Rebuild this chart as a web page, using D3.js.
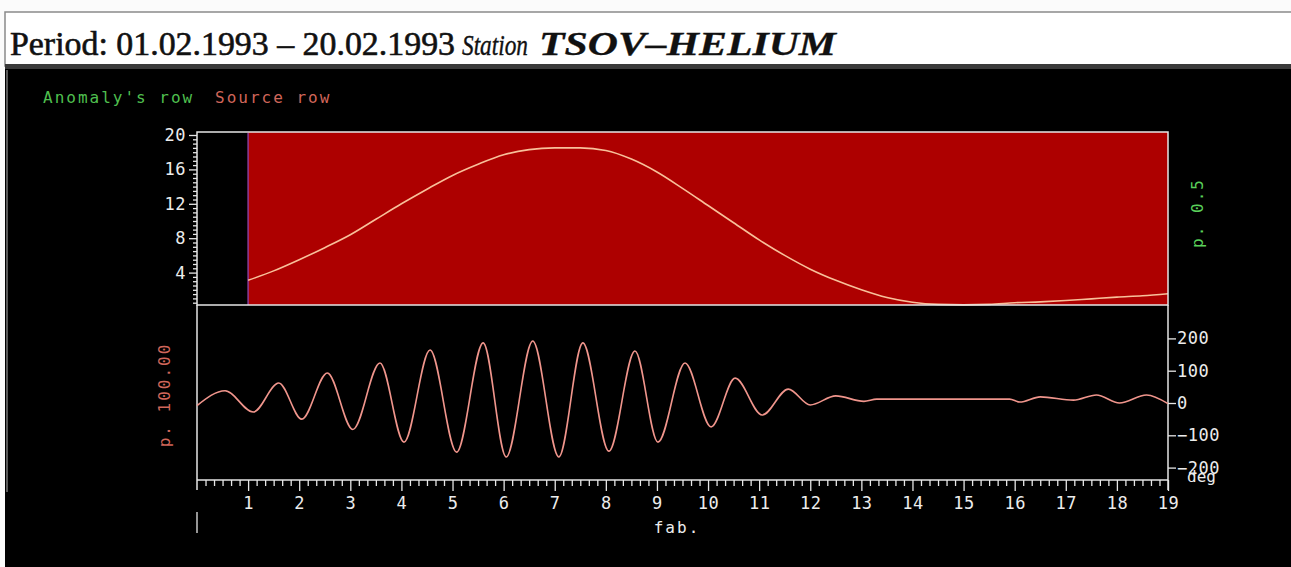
<!DOCTYPE html>
<html>
<head>
<meta charset="utf-8">
<script src="https://cdn.jsdelivr.net/npm/d3@7"></script>
<style>
  body { margin: 0; background: #fff; }
  svg { display: block; }
  .mono { font-family: "DejaVu Sans Mono", monospace; font-size: 16px; letter-spacing: 2px; }
  .tick-lbl { font-family: "DejaVu Sans Mono", monospace; font-size: 17px; letter-spacing: 0.5px; }
</style>
</head>
<body>
<svg id="chart" width="1291" height="567"></svg>
<script>
const width = 1291;
const height = 567;

// upper panel: anomaly row (value per half day)
const upDays = [1, 1.5, 2, 2.5, 3, 3.5, 4, 4.5, 5, 5.5, 6, 6.5, 7, 7.5, 8, 8.5, 9, 9.5, 10,
  10.5, 11, 11.5, 12, 12.5, 13, 13.5, 14, 14.5, 15, 15.5, 16, 16.5, 17, 17.5, 18, 18.5, 19];
const upValues = [3.1, 4.2, 5.5, 6.9, 8.4, 10.2, 12.0, 13.7, 15.3, 16.6, 17.7, 18.3, 18.5, 18.5, 18.2, 17.2, 15.7, 13.8, 11.8,
  9.8, 7.8, 6.0, 4.4, 3.1, 2.0, 1.1, 0.55, 0.3, 0.25, 0.3, 0.5, 0.6, 0.75, 0.95, 1.15, 1.3, 1.55];

// lower panel: source row (extremes of the oscillation)
const lowDays = [0, 0.55, 1.1, 1.6, 2.05, 2.55, 3.05, 3.58, 4.05, 4.56, 5.08, 5.6, 6.05, 6.57, 7.08, 7.55,
  8.06, 8.57, 9.02, 9.55, 10.06, 10.53, 11.06, 11.57, 12.0, 12.5, 13.05, 13.3, 15.9, 16.1, 16.5, 17.15,
  17.6, 18.05, 18.58, 19];
const lowValues = [-8, 38, -28, 62, -50, 93, -82, 124, -121, 164, -152, 186, -167, 192, -167, 186,
  -149, 161, -121, 124, -74, 77, -37, 43, -6, 22, 5, 12, 12, 3, 19, 9, 25, 0, 25, -2];

const upTicks = [4, 8, 12, 16, 20];
const lowTicks = [-200, -100, 0, 100, 200];
const dayTicks = d3.range(1, 20);

const svg = d3.select("#chart");

// page frame
svg.append("rect").attr("x", 0).attr("y", 0).attr("width", width).attr("height", height).attr("fill", "#fbfbfb");
svg.append("rect").attr("x", 5).attr("y", 12).attr("width", width).attr("height", 54)
  .attr("fill", "#fff").attr("stroke", "#8a8a8a").attr("stroke-width", 1.5);
svg.append("rect").attr("x", 5).attr("y", 65).attr("width", width).attr("height", height - 65).attr("fill", "#000");
svg.append("rect").attr("x", 5).attr("y", 64).attr("width", width).attr("height", 5).attr("fill", "#3a3a3a");
svg.append("line").attr("x1", 7).attr("x2", 7).attr("y1", 70).attr("y2", 492)
  .attr("stroke", "#777").attr("stroke-width", 1.5);

// title
const title = [
  { t: "Period: 01.02.1993 – 20.02.1993", x: 10, w: 445, style: "normal", weight: "normal", size: 34, sw: 0.6 },
  { t: "Station", x: 462, w: 66, style: "italic", weight: "normal", size: 30, sw: 0.4 },
  { t: "TSOV–HELIUM", x: 539, w: 297, style: "italic", weight: "bold", size: 33, sw: 0.3 },
];
svg.selectAll(".title").data(title).enter().append("text")
  .attr("x", (d) => d.x).attr("y", 55)
  .attr("textLength", (d) => d.w).attr("lengthAdjust", "spacingAndGlyphs")
  .style("font-family", "'Liberation Serif', serif")
  .style("font-style", (d) => d.style).style("font-weight", (d) => d.weight)
  .style("font-size", (d) => d.size + "px").attr("fill", "#111")
  .attr("stroke", "#111").attr("stroke-width", (d) => d.sw)
  .text((d) => d.t);

// legend
svg.append("text").attr("class", "mono").attr("x", 43).attr("y", 103).attr("fill", "#4fbf4f").text("Anomaly's row");
svg.append("text").attr("class", "mono").attr("x", 215).attr("y", 103).attr("fill", "#d0665a").text("Source row");

// scales
const x = d3.scaleLinear().domain([0, 19]).range([197, 1168]);
const yUp = d3.scaleLinear().domain([0, 20]).range([307, 135]);
const yLow = d3.scaleLinear().domain([-200, 200]).range([467.6, 338.4]);

// upper panel
svg.append("rect").attr("x", x(1)).attr("y", 132).attr("width", x(19) - x(1)).attr("height", 173).attr("fill", "#ad0000");
svg.append("line").attr("x1", x(1)).attr("x2", x(1)).attr("y1", 133).attr("y2", 305)
  .attr("stroke", "#8a3c9a").attr("stroke-width", 1.5);

svg.append("path")
  .datum(upDays.map((d, i) => [d, upValues[i]]))
  .attr("fill", "none").attr("stroke", "#f8c09a").attr("stroke-width", 1.6)
  .attr("d", d3.line().x((d) => x(d[0])).y((d) => yUp(d[1])).curve(d3.curveMonotoneX));

// frames
const frame = svg.append("g").attr("stroke", "#e6e6e6").attr("stroke-width", 1.5).attr("fill", "none");
frame.append("rect").attr("x", 197).attr("y", 132).attr("width", 971).attr("height", 173);
frame.append("line").attr("x1", 197).attr("x2", 197).attr("y1", 305).attr("y2", 490);
frame.append("line").attr("x1", 1168).attr("x2", 1168).attr("y1", 305).attr("y2", 490);

// lower panel line
svg.append("path")
  .datum(lowDays.map((d, i) => [d, lowValues[i]]))
  .attr("fill", "none").attr("stroke", "#f0958c").attr("stroke-width", 1.6)
  .attr("d", d3.line().x((d) => x(d[0])).y((d) => yLow(d[1])).curve(d3.curveMonotoneX));

function styleAxis(g) {
  g.select(".domain").remove();
  g.selectAll("line").attr("stroke", "#e6e6e6").attr("stroke-width", 1.3);
  g.selectAll("text").attr("class", "tick-lbl").attr("fill", "#ececec");
  g.attr("font-family", null).attr("font-size", null);
}

// upper left axis
svg.append("g").attr("transform", "translate(197,0)")
  .call(d3.axisLeft(yUp).tickValues(d3.range(0.5, 20, 0.5).filter((v) => v % 4 !== 0)).tickSize(4).tickFormat(""))
  .call(styleAxis);
svg.append("g").attr("transform", "translate(197,0)")
  .call(d3.axisLeft(yUp).tickValues(upTicks).tickSize(8).tickPadding(3))
  .call(styleAxis);

// lower right axis
svg.append("g").attr("transform", "translate(1168,0)")
  .call(d3.axisRight(yLow).tickValues(lowTicks).tickSize(8).tickPadding(1)
    .tickFormat((d) => (d < 0 ? "−" + Math.abs(d) : d)))
  .call(styleAxis);

// bottom axis
svg.append("line").attr("x1", 197).attr("x2", 1168).attr("y1", 480).attr("y2", 480)
  .attr("stroke", "#e6e6e6").attr("stroke-width", 1.5);
svg.append("g").attr("transform", "translate(0,480)")
  .call(d3.axisBottom(x).tickValues(d3.range(1, 114).map((i) => i / 6).filter((v, i) => (i + 1) % 6 !== 0)).tickSize(6).tickFormat(""))
  .call(styleAxis);
svg.append("g").attr("transform", "translate(0,480)")
  .call(d3.axisBottom(x).tickValues(dayTicks).tickSize(11).tickPadding(6))
  .call(styleAxis);

svg.append("line").attr("x1", 197).attr("x2", 197).attr("y1", 512).attr("y2", 533)
  .attr("stroke", "#e6e6e6").attr("stroke-width", 1.3);
svg.append("text").attr("class", "mono").attr("x", 677).attr("y", 533).attr("text-anchor", "middle")
  .attr("fill", "#ececec").text("fab.");
svg.append("text").attr("class", "mono").attr("x", 1187).attr("y", 482)
  .attr("fill", "#ececec").style("letter-spacing", "0px").text("deg");

// rotated labels
svg.append("text").attr("class", "mono").attr("transform", "translate(1203,213) rotate(-90)")
  .attr("text-anchor", "middle").attr("fill", "#5ad05a").text("p. 0.5");
svg.append("text").attr("class", "mono").attr("transform", "translate(170,395) rotate(-90)")
  .attr("text-anchor", "middle").attr("fill", "#d0665a").text("p. 100.00");
</script>
</body>
</html>
